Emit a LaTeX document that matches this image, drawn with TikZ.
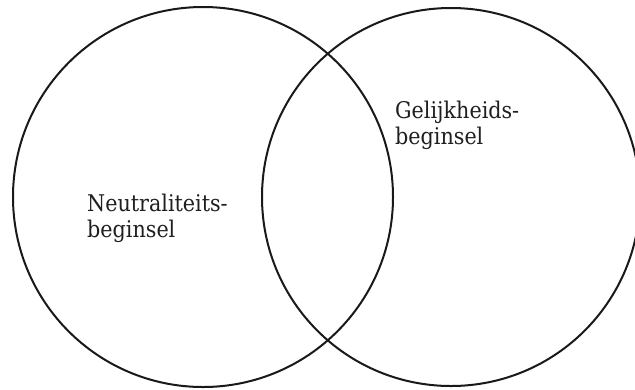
\documentclass[tikz,border=0pt]{standalone}
\usepackage{fontspec}
\setmainfont{DejaVu Serif Condensed}
\begin{document}
\begin{tikzpicture}[x=1bp,y=-1bp,
  ring/.style={draw=black!90, line width=2bp},
  lbl/.style={anchor=base west, inner sep=0pt, align=left,
    font=\fontsize{23bp}{26bp}\selectfont, text=black!88}]
\useasboundingbox (0,0) rectangle (635,389);
\clip (0,0) rectangle (635,389);
\node[ring, circle, minimum size=380bp, inner sep=0pt] (L) at (203,197) {};
\node[ring, circle, minimum size=378bp, inner sep=0pt] (R) at (451,197) {};
\node[lbl] (nt) at (87,237) {Neutraliteits-\\beginsel};
\node[lbl] (gl) at (395,144) {Gelijkheids-\\beginsel};
\end{tikzpicture}
\end{document}
